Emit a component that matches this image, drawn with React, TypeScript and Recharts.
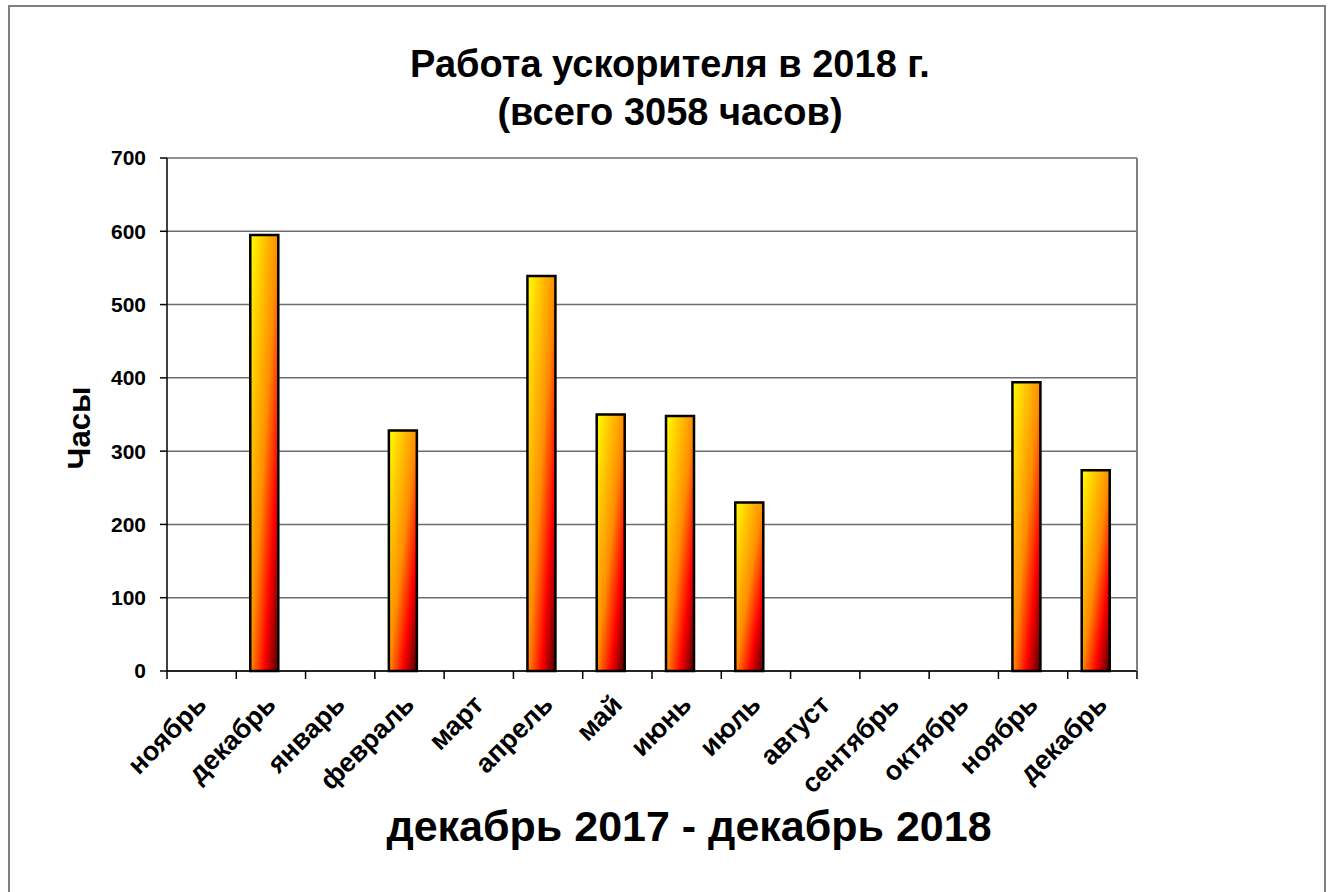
import React from 'react';
import { BarChart, Bar, XAxis, YAxis, CartesianGrid } from 'recharts';

const months = ['ноябрь', 'декабрь', 'январь', 'февраль', 'март', 'апрель', 'май', 'июнь', 'июль', 'август', 'сентябрь', 'октябрь', 'ноябрь', 'декабрь'];
const hours = [0, 595, 0, 328, 0, 539, 350, 348, 230, 0, 0, 0, 394, 274];
const yTicks = [0, 100, 200, 300, 400, 500, 600, 700];

const data = months.map((m, i) => ({ month: m, hours: hours[i], spare: null as number | null }));

const FONT = '"Liberation Sans", Arial, sans-serif';

const MonthTick = (props: any) => {
  const { x, y, payload, index } = props;
  const half = payload && typeof payload.offset === 'number' ? payload.offset : 0;
  const isLast = index === months.length - 1;
  return (
    <g>
      <line x1={x - half} x2={x - half} y1={y} y2={y + 8} stroke="#000" strokeWidth={1.5} />
      {isLast && <line x1={x + half} x2={x + half} y1={y} y2={y + 8} stroke="#000" strokeWidth={1.5} />}
      <g transform={`translate(${x},${y + 29})`}>
        <text transform="rotate(-45)" textAnchor="end" dominantBaseline="central" fontFamily={FONT} fontWeight="bold" fontSize={27} fill="#000">
          {payload.value}
        </text>
      </g>
    </g>
  );
};

export default function App() {
  return (
    <div style={{ position: 'absolute', left: 0, top: 0, width: 1331, height: 892, overflow: 'hidden', background: '#fff', fontFamily: FONT }}>
      <div style={{ position: 'absolute', left: 8, top: 5, width: 1318, height: 1000, border: '2px solid #808080', boxSizing: 'border-box' }} />
      <div style={{ position: 'absolute', left: 0, top: 40, width: 1340, textAlign: 'center', fontWeight: 'bold', fontSize: 38, lineHeight: '48px', color: '#000' }}>
        Работа ускорителя в 2018 г.<br />(всего 3058 часов)
      </div>
      <div style={{ position: 'absolute', left: 80, top: 428, transform: 'translate(-50%,-50%) rotate(-90deg)', fontWeight: 'bold', fontSize: 31, whiteSpace: 'nowrap', color: '#000' }}>
        Часы
      </div>
      <div style={{ position: 'absolute', left: 0, top: 800, width: 1378, textAlign: 'center', fontWeight: 'bold', fontSize: 43, lineHeight: '52px', color: '#000' }}>
        декабрь 2017 - декабрь 2018
      </div>
      <div style={{ position: 'absolute', left: 0, top: 0 }}>
        <BarChart width={1331} height={892} data={data} margin={{ top: 158, right: 193, bottom: 71, left: 0 }} barGap={13}>
          <defs>
            <linearGradient id="barGrad" x1="0" y1="0" x2="1" y2="1">
              <stop offset="0" stopColor="#FFFF00" />
              <stop offset="0.5" stopColor="#FF8C00" />
              <stop offset="0.75" stopColor="#FF0000" />
              <stop offset="1" stopColor="#4A0000" />
            </linearGradient>
          </defs>
          <CartesianGrid xAxisId="cat" yAxisId="l" vertical={false} stroke="#6e6e6e" strokeWidth={1.5} />
          <XAxis xAxisId="cat" dataKey="month" type="category" interval={0} tick={<MonthTick />} tickLine={false} axisLine={{ stroke: '#000', strokeWidth: 1.5 }} tickSize={0} tickMargin={0} height={150} />
          <YAxis yAxisId="l" domain={[0, 700]} ticks={yTicks} interval={0} width={167} tickSize={7} tickMargin={14} axisLine={{ stroke: '#000', strokeWidth: 1.5 }} tickLine={{ stroke: '#000', strokeWidth: 1.5 }} tick={{ fill: '#000', fontSize: 21, fontWeight: 'bold', fontFamily: FONT }} />
          <YAxis yAxisId="r" orientation="right" domain={[0, 700]} ticks={[0, 700]} tick={false} tickLine={false} width={1} axisLine={{ stroke: '#808080', strokeWidth: 2 }} />
          <Bar xAxisId="cat" yAxisId="l" dataKey="hours" barSize={28} fill="url(#barGrad)" stroke="#000" strokeWidth={2.5} isAnimationActive={false} />
          <Bar xAxisId="cat" yAxisId="l" dataKey="spare" barSize={1} fill="none" isAnimationActive={false} />
        </BarChart>
      </div>
    </div>
  );
}
